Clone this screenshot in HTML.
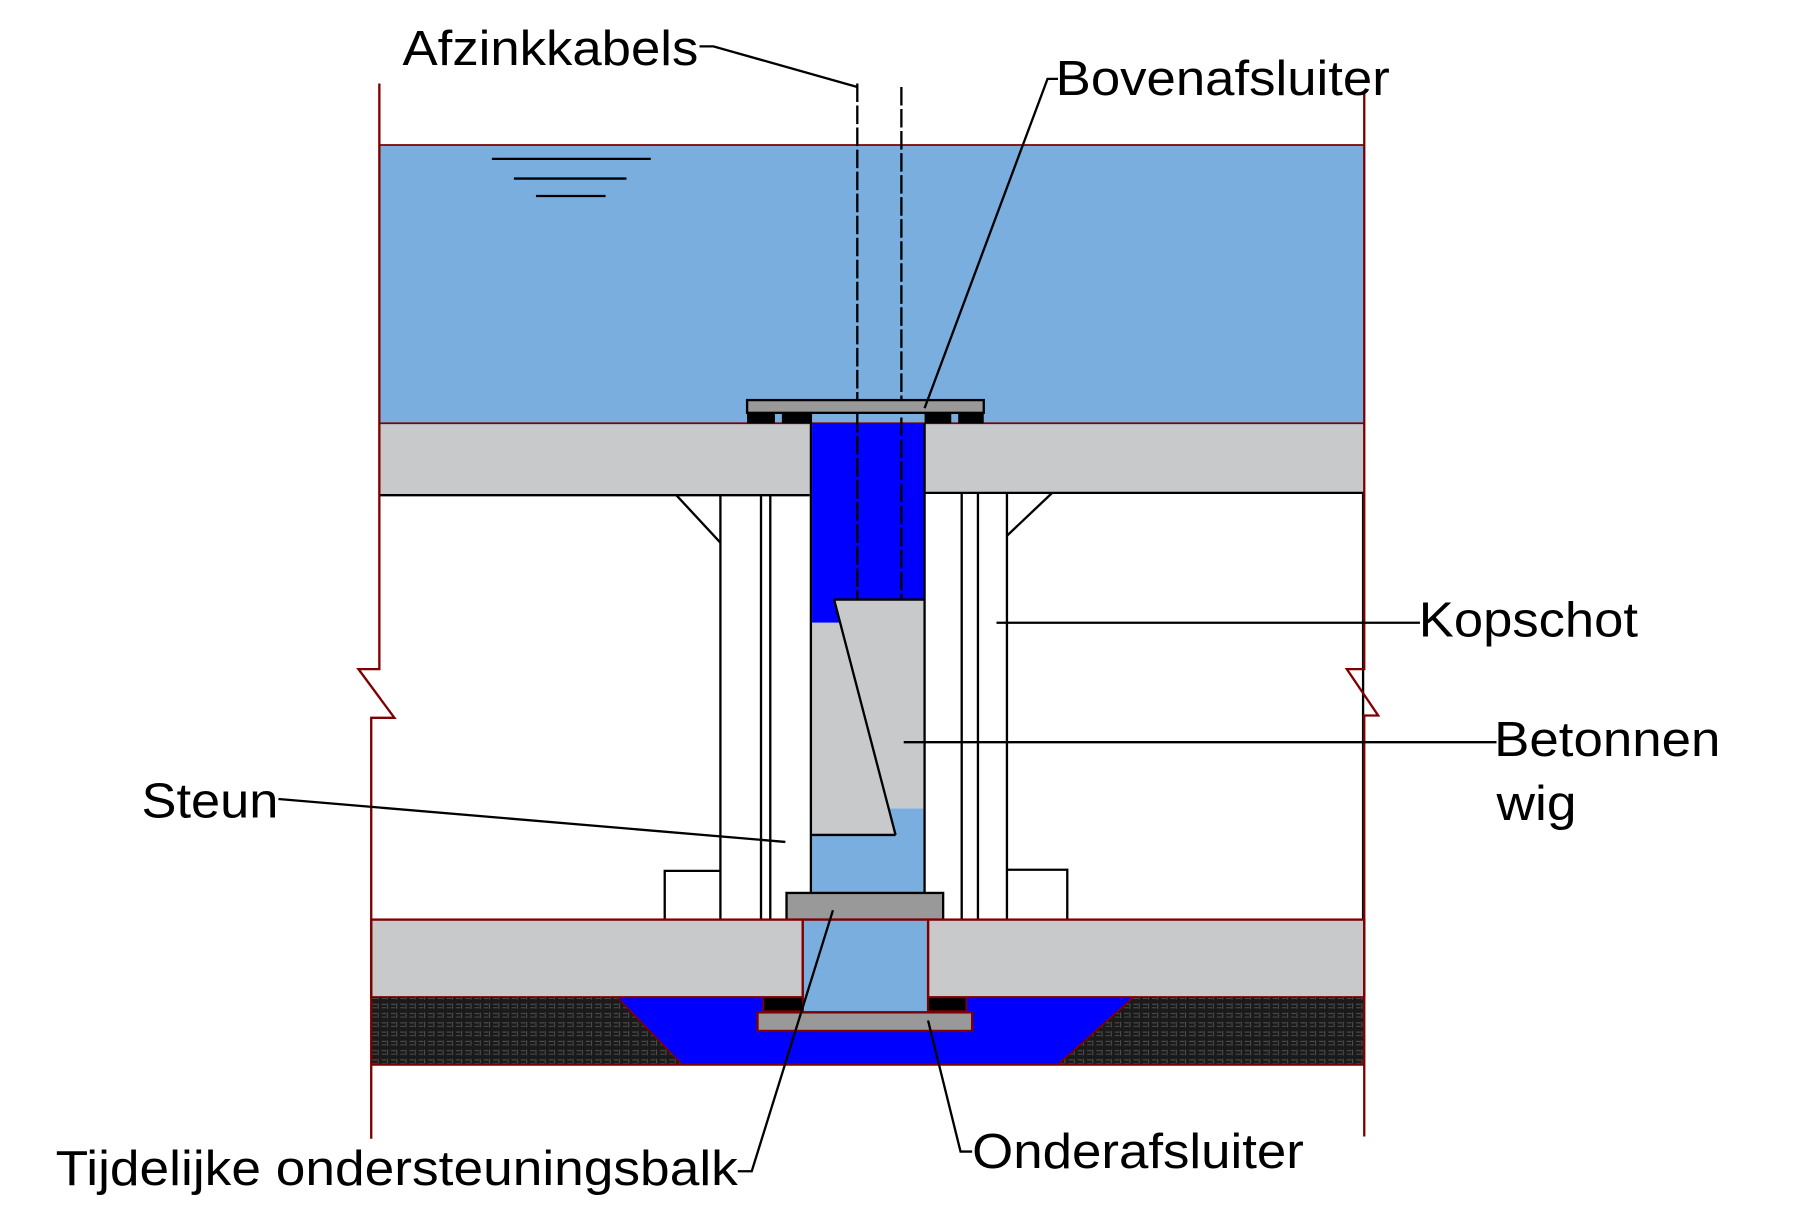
<!DOCTYPE html>
<html><head><meta charset="utf-8"><style>html,body{margin:0;padding:0;background:#fff}svg{display:block}</style></head><body>
<svg width="1819" height="1213" viewBox="0 0 1568 1046" preserveAspectRatio="none" xmlns="http://www.w3.org/2000/svg">
<defs>
<pattern id="h" width="8" height="8" patternUnits="userSpaceOnUse"><rect width="8" height="8" fill="#1a1a1a"/><path d="M1 2h4M1 5h4M6 1v5" stroke="#555" stroke-width="0.8"/></pattern>
</defs>
<!-- water -->
<rect x="327" y="125" width="849" height="240" fill="#7aaedf"/>
<line x1="327" y1="125" x2="1176" y2="125" stroke="#7f0000" stroke-width="1.5"/>
<g stroke="#000" stroke-width="2"><line x1="424" y1="137" x2="561" y2="137"/><line x1="443" y1="154" x2="540" y2="154"/><line x1="462" y1="169" x2="522" y2="169"/></g>
<!-- upper slab -->
<rect x="327" y="365" width="371" height="62" fill="#c8c9cb"/>
<rect x="797" y="365" width="379" height="60" fill="#c8c9cb"/>
<line x1="327" y1="365" x2="1176" y2="365" stroke="#7f0000" stroke-width="1.5"/>
<g stroke="#000" stroke-width="2"><line x1="327" y1="427" x2="698" y2="427"/><line x1="797" y1="425" x2="1176" y2="425"/></g>
<!-- shaft -->
<rect x="700" y="365" width="97" height="172" fill="#0000ff"/>
<rect x="700" y="697" width="97" height="73" fill="#7aaedf"/>
<polygon points="700,537 724,537 772,720 700,720" fill="#c8c9cb"/>
<polygon points="719,517 797,517 797,697 766,697" fill="#c8c9cb"/>
<g stroke="#000" stroke-width="2" fill="none">
<line x1="719" y1="517" x2="772" y2="720"/><line x1="700" y1="720" x2="772" y2="720"/><line x1="719" y1="517" x2="797" y2="517"/><line x1="797" y1="697" x2="797" y2="697"/>
<line x1="699" y1="365" x2="699" y2="770"/><line x1="797" y1="365" x2="797" y2="793"/>
<!-- columns -->
<line x1="621" y1="427" x2="621" y2="793"/><line x1="656" y1="427" x2="656" y2="793"/><line x1="664" y1="427" x2="664" y2="793"/>
<line x1="829" y1="425" x2="829" y2="793"/><line x1="843" y1="425" x2="843" y2="793"/><line x1="868" y1="425" x2="868" y2="793"/>
<line x1="583" y1="427" x2="621" y2="468"/><line x1="907" y1="425" x2="868" y2="462"/>
<polyline points="573,793 573,751 621,751"/><polyline points="868,750 920,750 920,793"/>
<line x1="1175" y1="425" x2="1175" y2="793"/>
</g>
<!-- cables -->
<g stroke="#000" stroke-width="2" stroke-dasharray="16,3"><line x1="739" y1="72" x2="739" y2="517"/><line x1="777" y1="75" x2="777" y2="517"/></g>
<!-- top plate -->
<rect x="644" y="345" width="204" height="11" fill="#999" stroke="#000" stroke-width="2"/>
<g fill="#000"><rect x="644" y="356" width="24" height="9"/><rect x="674" y="356" width="26" height="9"/><rect x="797" y="356" width="23" height="9"/><rect x="826" y="356" width="22" height="9"/></g>
<!-- beam -->
<rect x="678" y="770" width="135" height="23" fill="#999" stroke="#000" stroke-width="2"/>
<!-- lower slab -->
<rect x="320" y="793" width="372" height="67" fill="#c8c9cb" stroke="#7f0000" stroke-width="2"/>
<rect x="800" y="793" width="376" height="67" fill="#c8c9cb" stroke="#7f0000" stroke-width="2"/>
<!-- ground -->
<rect x="320" y="860" width="856" height="58" fill="url(#h)"/>
<polygon points="532,860 977,860 912,918 588,918" fill="#0000ff" stroke="#7f0000" stroke-width="1.5"/>
<line x1="320" y1="918" x2="1176" y2="918" stroke="#7f0000" stroke-width="2"/>
<rect x="692" y="793" width="108" height="80" fill="#7aaedf" stroke="#7f0000" stroke-width="2"/>
<rect x="658" y="860" width="34" height="12" fill="#000" stroke="#7f0000" stroke-width="1.5"/>
<rect x="800" y="860" width="33" height="12" fill="#000" stroke="#7f0000" stroke-width="1.5"/>
<rect x="653" y="873" width="185" height="16" fill="#999" stroke="#7f0000" stroke-width="2"/>
<!-- walls -->
<g stroke="#7f0000" stroke-width="2" fill="none">
<polyline points="327,72 327,577 309,577 340,619 320,619 320,982"/>
<polyline points="1176,80 1176,577 1161,577 1188,617 1176,617 1176,980"/>
</g>
<!-- leaders -->
<g stroke="#000" stroke-width="2" fill="none">
<polyline points="603,40 615,40 739,75"/>
<polyline points="912,68 903,68 797,352"/>
<line x1="859" y1="537" x2="1224" y2="537"/>
<line x1="779" y1="640" x2="1290" y2="640"/>
<line x1="240" y1="689" x2="677" y2="726"/>
<polyline points="636,1010 648,1010 718,785"/>
<polyline points="838,993 828,993 800,880"/>
</g>
<g font-family="Liberation Sans, Arial, sans-serif" font-size="42" fill="#000">
<text x="347" y="56" textLength="255" lengthAdjust="spacingAndGlyphs">Afzinkkabels</text>
<text x="910" y="82" textLength="288" lengthAdjust="spacingAndGlyphs">Bovenafsluiter</text>
<text x="1223" y="549" textLength="189" lengthAdjust="spacingAndGlyphs">Kopschot</text>
<text x="1288" y="652" textLength="195" lengthAdjust="spacingAndGlyphs">Betonnen</text>
<text x="1290" y="707" textLength="69" lengthAdjust="spacingAndGlyphs">wig</text>
<text x="122" y="705" textLength="118" lengthAdjust="spacingAndGlyphs">Steun</text>
<text x="48" y="1022" textLength="588" lengthAdjust="spacingAndGlyphs">Tijdelijke ondersteuningsbalk</text>
<text x="838" y="1007" textLength="286" lengthAdjust="spacingAndGlyphs">Onderafsluiter</text>
</g>
</svg>
</body></html>
